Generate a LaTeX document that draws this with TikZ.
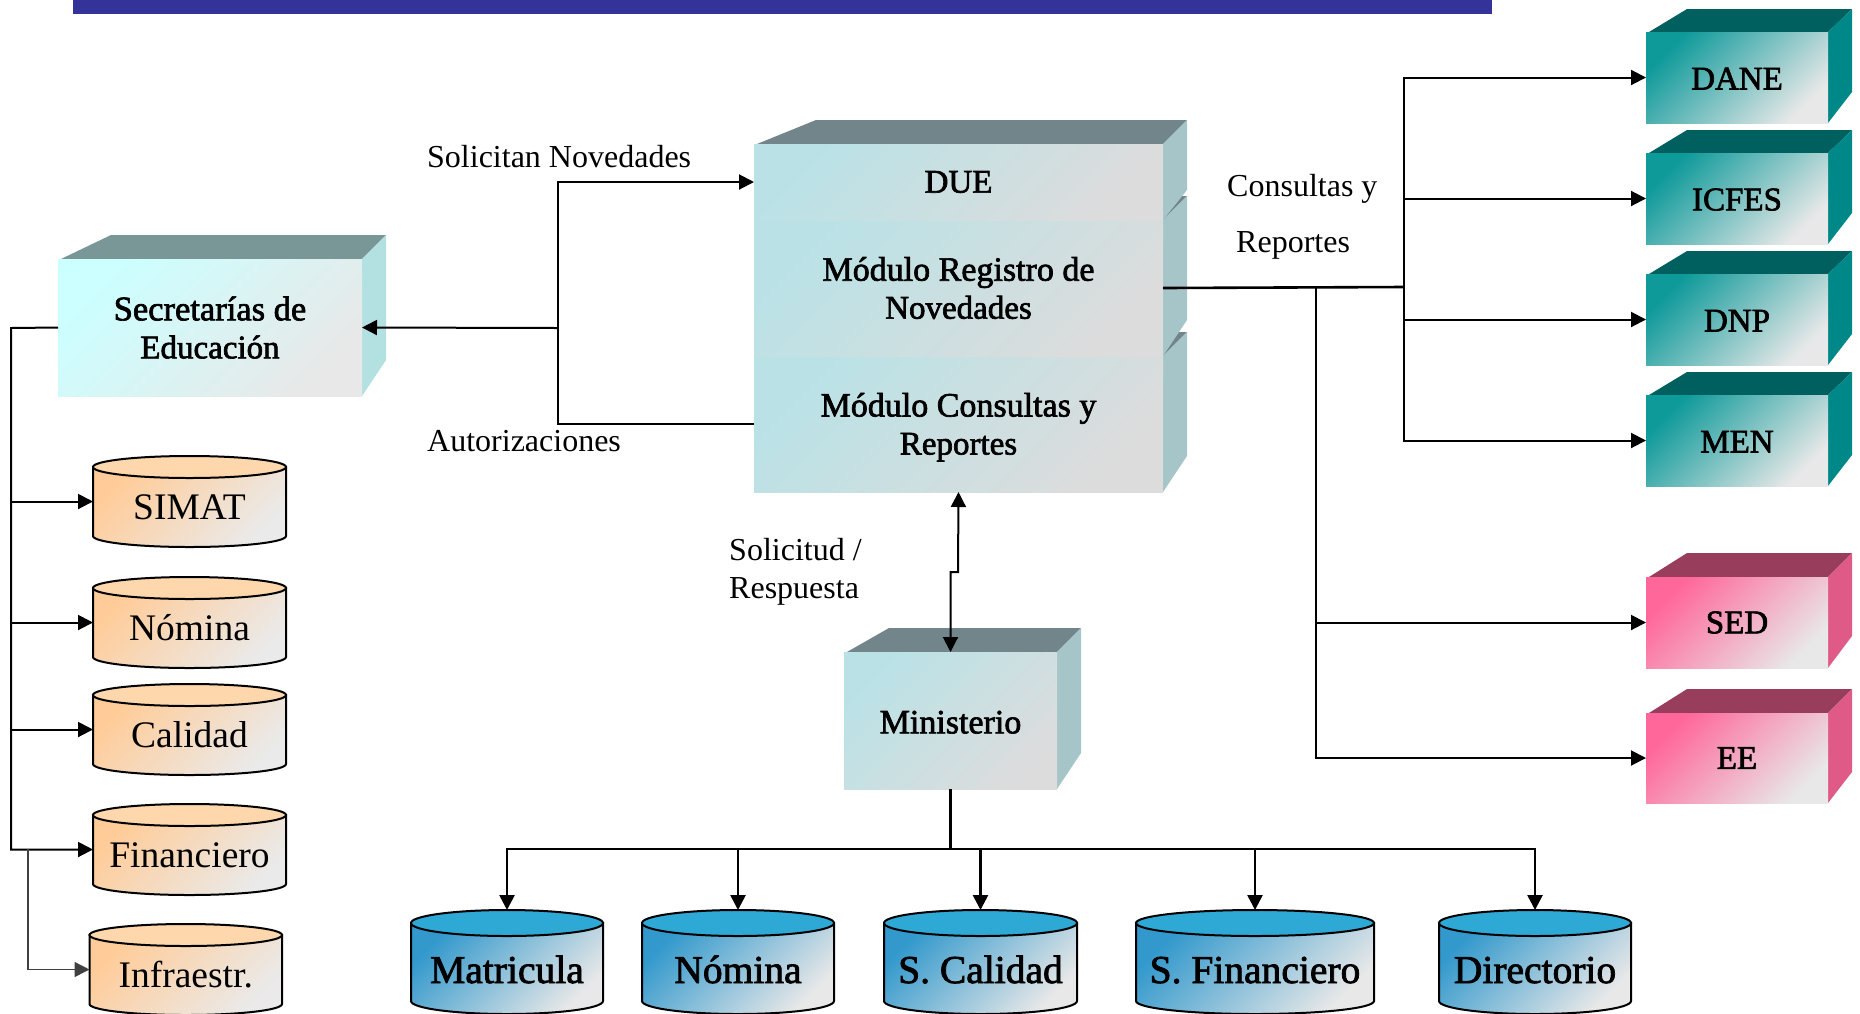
\documentclass[tikz,border=0pt]{standalone}
\usepackage{fontspec}
\setmainfont{Liberation Serif}
\newfontfamily\boxfont[FakeBold=2]{Liberation Serif}
\usetikzlibrary{arrows.meta}
\definecolor{bartop}{HTML}{333399}
\definecolor{seatop}{HTML}{7A9797}\definecolor{seaside}{HTML}{B3E0E0}\definecolor{seaA}{HTML}{CCFFFF}\definecolor{seaB}{HTML}{E8E8E8}
\definecolor{mutetop}{HTML}{71858A}\definecolor{muteside}{HTML}{A6C5C8}\definecolor{muteA}{HTML}{BAE2E6}\definecolor{muteB}{HTML}{DCDCDC}
\definecolor{tealtop}{HTML}{005F5F}\definecolor{tealside}{HTML}{008888}\definecolor{tealA}{HTML}{0F9A9A}\definecolor{tealB}{HTML}{E8E8E8}
\definecolor{pinktop}{HTML}{993D5C}\definecolor{pinkside}{HTML}{E05A87}\definecolor{pinkA}{HTML}{FF6699}\definecolor{pinkB}{HTML}{E8E8E8}
\definecolor{orngtop}{HTML}{FFD7AC}\definecolor{orngA}{HTML}{FFCC99}\definecolor{orngB}{HTML}{EAEAEA}
\definecolor{bluetop}{HTML}{2EA9D6}\definecolor{blueA}{HTML}{3399CC}\definecolor{blueB}{HTML}{E8E8E8}
\tikzset{
  x=1pt,y=-1pt,
  face/.style 2 args={top color=#1,bottom color=#2,shading angle=45},
  seaface/.style={face={seaA}{seaB}},
  muteface/.style={face={muteA}{muteB}},
  tealface/.style={face={tealA}{tealB}},
  pinkface/.style={face={pinkA}{pinkB}},
  orngface/.style={face={orngA}{orngB}},
  blueface/.style={face={blueA}{blueB}},
  cubenode/.style={inner sep=0pt,outer sep=0pt,align=center,text=black,
    font=\boxfont\fontsize{33}{38}\selectfont},
  drumnode/.style={inner sep=0pt,outer sep=0pt,text=black},
  lbl/.style={anchor=west,inner sep=0pt,font=\fontsize{32}{38}\selectfont},
  link/.style={draw=black,line width=2pt},
  linkthick/.style={draw=black,line width=2.6pt},
  linkarrow/.style={link,-{Triangle[length=15pt,width=15pt]}},
  linkboth/.style={link,{Triangle[length=15pt,width=15pt]}-{Triangle[length=15pt,width=15pt]}},
  busarrow/.style={linkthick,-{Triangle[length=15pt,width=15pt]}},
  grayarrow/.style={draw=black!75,line width=1.4pt,-{Triangle[length=15pt,width=15pt]}},
}
\newcommand\backrise{24}
% name, left, top, right, bottom, back-left x, side bottom y, palette, text
\newcommand\solidbox[9]{%
  \fill[#8top] ({#2+3},#3) -- (#6,{#3-\backrise}) -- ({#4+24},{#3-\backrise}) -- (#4,#3) -- cycle;
  \fill[#8side] (#4,#3) -- ({#4+24},{#3-\backrise}) -- ({#4+24},#7) -- (#4,#5) -- cycle;
  \node[cubenode,#8face,minimum width={(#4-#2)*1pt},minimum height={(#5-#3)*1pt}]
    (#1) at ({(#2+#4)/2},{(#3+#5)/2}) {#9};
}
% name, left, right, top, bottom, ellipse ry, palette, text, baseline shift
\newcommand\drum[9]{%
  \path[#7face,draw=black,line width=2pt]
    (#2,{#4+#6}) -- (#2,{#5-#6}) arc[start angle=180,end angle=0,x radius={(#3-#2)/2},y radius=#6]
    -- (#3,{#4+#6}) -- cycle;
  \path[fill=#7top,draw=black,line width=2pt] ({(#2+#3)/2},{#4+#6}) ellipse[x radius={(#3-#2)/2},y radius=#6];
  \node[drumnode,minimum width={(#3-#2)*1pt},minimum height={(#5-#4)*1pt}]
    (#1) at ({(#2+#3)/2},{(#4+#5)/2}) {\raisebox{-#9pt}[0pt][0pt]{#8}};
}
\newcommand\plainlab{\fontsize{37.5}{38}\selectfont}
\newcommand\boldlab{\boxfont\fontsize{39.5}{38}\selectfont}
\newcommand\sz[1]{\fontsize{#1}{38}\selectfont}
\begin{document}
\begin{tikzpicture}
\useasboundingbox (0,0) rectangle (1860,1013);
\fill[bartop] (73,-1) rectangle (1492,14);

% boxes
\solidbox{sec}{58}{259}{362}{396}{111}{360}{sea}{\sz{34.5}Secretarías de\\Educación}
\solidbox{cons}{754}{356}{1163}{492}{816}{456}{mute}{\sz{34}\rule{0pt}{30pt}Módulo Consultas y\\Reportes}
\solidbox{reg}{754}{220}{1163}{356}{816}{320}{mute}{\sz{34}Módulo Registro de\\Novedades}
\solidbox{due}{754}{144}{1163}{220}{816}{190}{mute}{DUE}
\solidbox{min}{844}{652}{1057}{789}{889}{753}{mute}{\sz{34}\rule{0pt}{26pt}Ministerio}
\renewcommand\backrise{23}
\solidbox{dane}{1646}{32}{1828}{123}{1687}{92}{teal}{\rule{0pt}{24pt}DANE}
\solidbox{icfes}{1646}{153}{1828}{244}{1687}{213}{teal}{\rule{0pt}{24pt}ICFES}
\solidbox{dnp}{1646}{274}{1828}{365}{1687}{334}{teal}{\rule{0pt}{24pt}DNP}
\solidbox{men}{1646}{395}{1828}{486}{1687}{455}{teal}{\rule{0pt}{24pt}MEN}
\renewcommand\backrise{24}
\solidbox{sed}{1646}{577}{1828}{668}{1687}{636}{pink}{SED}
\solidbox{ee}{1646}{713}{1828}{803}{1687}{772}{pink}{EE}

% cylinders
\drum{simat}{93}{286}{456}{547}{11}{orng}{\plainlab SIMAT}{18}
\drum{nomA}{93}{286}{577}{668}{11}{orng}{\plainlab Nómina}{18}
\drum{cal}{93}{286}{684}{775}{11}{orng}{\plainlab Calidad}{18}
\drum{fin}{93}{286}{804}{895}{11}{orng}{\plainlab Financiero}{18}
\drum{inf}{89.5}{282}{924}{1015}{11}{orng}{\plainlab Infraestr.}{18}
\drum{mat}{411}{603}{910}{1014}{13}{blue}{\boldlab Matricula}{21}
\drum{nomB}{642}{834}{910}{1014}{13}{blue}{\boldlab Nómina}{21}
\drum{scal}{884}{1077}{910}{1014}{13}{blue}{\boldlab S. Calidad}{21}
\drum{sfin}{1136}{1374}{910}{1014}{13}{blue}{\boldlab S. Financiero}{21}
\drum{dir}{1439}{1631}{910}{1014}{13}{blue}{\boldlab Directorio}{21}

% labels
\node[lbl] (t1) at (427,157) {Solicitan Novedades};
\node[lbl] (t2) at (427,441) {Autorizaciones};
\node[lbl] (t3) at (1227,188.5) {Consultas y};
\node[lbl] (t4) at (1236,245.5) {Reportes};
\node[lbl] (t5) at (729,550) {Solicitud /};
\node[lbl] (t6) at (729,591.5) {Respuesta};

% junctions
\coordinate (leftTrunk) at (11,328);
\coordinate (leftBranch) at (28,849);
\coordinate (midJoin) at (557.5,328);
\coordinate (rightTrunk) at (1404,287);
\coordinate (rightTrunkB) at (1316,287);
\coordinate (stepJoin) at (958,572);
\coordinate (busJoin) at (950.5,849);

% connectors
\draw[linkarrow] (sec.west) -- (leftTrunk) |- (fin.west);
\draw[linkarrow] (leftTrunk |- simat.west) -- (simat.west);
\draw[linkarrow] (leftTrunk |- nomA.west) -- (nomA.west);
\draw[linkarrow] (leftTrunk |- cal.west) -- (cal.west);
\draw[grayarrow] (leftBranch) |- (inf.west);

\draw[linkarrow] (midJoin) -- (sec.east);
\draw[linkarrow] (midJoin) |- (due.west);
\draw[link] (cons.west) -| (midJoin);

\draw[linkthick] (reg.east) -- (rightTrunk);
\draw[linkarrow] (rightTrunk) |- (dane.west);
\draw[linkarrow] (rightTrunk) |- (icfes.west);
\draw[linkarrow] (rightTrunk) |- (dnp.west);
\draw[linkarrow] (rightTrunk) |- (men.west);
\draw[linkarrow] (rightTrunkB) |- (sed.west);
\draw[linkarrow] (rightTrunkB) |- (ee.west);

\draw[linkboth] (cons.south) -- (stepJoin) -| (min.north);
\draw[draw=black,line width=3.6pt] (min.south) -- (busJoin);
\draw[busarrow] (busJoin) -| (mat.north);
\draw[busarrow] (busJoin) -| (nomB.north);
\draw[busarrow] (busJoin) -| (scal.north);
\draw[busarrow] (busJoin) -| (sfin.north);
\draw[busarrow] (busJoin) -| (dir.north);
\end{tikzpicture}
\end{document}
